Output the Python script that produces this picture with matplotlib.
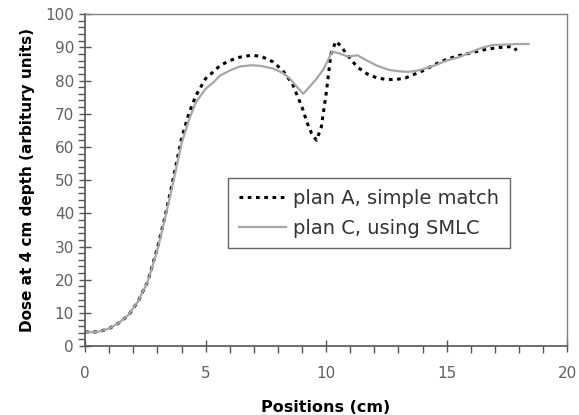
import matplotlib
matplotlib.use("Agg")
import matplotlib.pyplot as plt
from matplotlib.ticker import MultipleLocator

plt.rcParams['font.family'] = ['DejaVu Sans']

# plan A, simple match (black dashed)
posA = [0.0, 0.3, 0.6, 1.0, 1.4, 1.8, 2.2, 2.6, 3.0, 3.3, 3.6, 4.0, 4.3, 4.6, 5.0,
        5.3, 5.6, 6.0, 6.4, 6.9, 7.3, 7.8, 8.2, 8.6, 9.0, 9.2, 9.4, 9.6, 9.8,
        10.0, 10.2, 10.4, 10.6, 10.9, 11.3, 11.7, 12.1, 12.5, 12.9, 13.3, 13.7,
        14.1, 14.5, 15.0, 15.5, 16.0, 16.5, 17.0, 17.6, 17.8, 17.9]
doseA = [4.3, 4.2, 4.4, 5.3, 7.0, 9.3, 13.5, 19.5, 29.5, 38.5, 48.5, 62.5, 70.0,
         75.5, 80.6, 82.5, 84.5, 86.0, 87.0, 87.6, 87.3, 85.6, 83.0, 79.0, 72.0,
         67.5, 64.0, 62.0, 66.0, 76.0, 88.0, 91.8, 90.5, 87.5, 84.0, 82.0, 80.8,
         80.3, 80.3, 80.8, 82.0, 83.2, 84.8, 86.4, 87.5, 88.3, 89.2, 89.8, 90.2,
         90.0, 89.0]

# plan C, using SMLC (grey solid)
posC = [0.0, 0.3, 0.6, 1.0, 1.4, 1.8, 2.2, 2.6, 3.0, 3.3, 3.6, 4.0, 4.3, 4.6, 5.0,
        5.3, 5.6, 6.0, 6.4, 6.9, 7.3, 7.8, 8.2, 8.5, 8.8, 9.05, 9.3, 9.6, 9.9,
        10.1, 10.25, 10.5, 10.9, 11.3, 11.7, 12.1, 12.6, 13.0, 13.4, 13.8, 14.2,
        14.6, 15.0, 15.5, 16.0, 16.4, 16.9, 17.4, 17.9, 18.4]
doseC = [4.3, 4.2, 4.4, 5.3, 7.0, 9.4, 13.5, 19.5, 29.0, 38.0, 47.5, 61.0, 68.0,
         73.5, 77.5, 79.3, 81.5, 83.0, 84.2, 84.6, 84.4, 83.6, 82.3, 80.5, 78.0,
         76.0, 78.0, 80.5, 83.5, 86.5, 88.7, 88.3, 87.2, 87.6, 86.0, 84.5, 83.2,
         82.8, 82.6, 83.0, 83.8, 84.8, 86.0, 87.0, 88.5, 89.7, 90.7, 90.8, 91.0,
         91.0]

fig = plt.figure(figsize=(5.79, 4.15), dpi=100)
ax = fig.add_axes([0.147, 0.166, 0.8325, 0.8])

ax.plot(posA, doseA, color='black', linestyle=(0, (1.2, 1.5)), linewidth=2.2,
        label='plan A, simple match')
ax.plot(posC, doseC, color='#a6a6a6', linestyle='-', linewidth=1.6,
        label='plan C, using SMLC')

ax.set_xlim(0, 20)
ax.set_ylim(0, 100)
ax.xaxis.set_major_locator(MultipleLocator(5))
ax.xaxis.set_minor_locator(MultipleLocator(1))
ax.yaxis.set_major_locator(MultipleLocator(10))
ax.yaxis.set_minor_locator(MultipleLocator(2))

ax.tick_params(axis='both', which='major', direction='inout', length=8, width=1,
               colors='#555555', labelcolor='#606060', labelsize=11)
ax.tick_params(axis='both', which='minor', direction='out', length=5, width=1,
               colors='#555555')
ax.tick_params(axis='x', which='major', pad=10)
ax.tick_params(axis='y', which='major', pad=4)

for side in ['left', 'bottom']:
    ax.spines[side].set_color('#555555')
    ax.spines[side].set_linewidth(1.2)
for side in ['top', 'right']:
    ax.spines[side].set_color('#808080')
    ax.spines[side].set_linewidth(1.0)

ax.set_xlabel('Positions (cm)', fontweight='bold', fontsize=11.5, labelpad=14)
ax.set_ylabel('Dose at 4 cm depth (arbitury units)', fontweight='bold',
              fontsize=11, labelpad=7)

leg = ax.legend(loc='upper left', bbox_to_anchor=(0.297, 0.506), fontsize=14,
                frameon=True, fancybox=False, handlelength=2.4, handletextpad=0.4,
                borderpad=0.55, labelspacing=0.55, borderaxespad=0)
leg.get_frame().set_edgecolor('#404040')
leg.get_frame().set_linewidth(1.0)
for t in leg.get_texts():
    t.set_color('#333333')

fig.savefig('out.png', dpi=100)
